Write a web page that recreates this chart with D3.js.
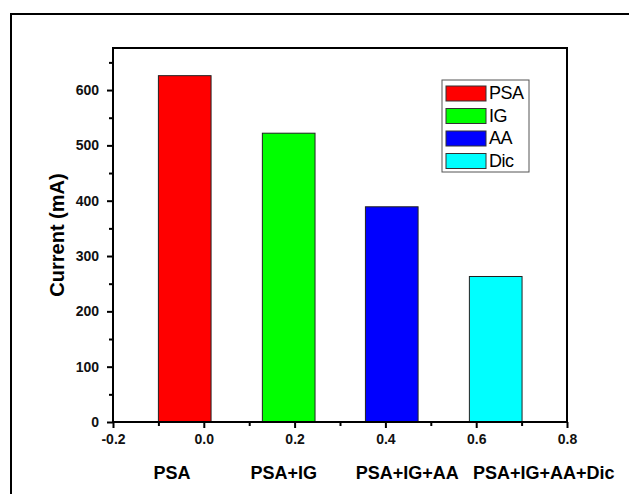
<!DOCTYPE html>
<html>
<head>
<meta charset="utf-8">
<script src="https://cdn.jsdelivr.net/npm/d3@7"></script>
<style>
  body { margin: 0; background: #fff; }
  svg { display: block; }
  text { font-family: "Liberation Sans", Arial, sans-serif; }
</style>
</head>
<body>
<div id="chart"></div>
<script>
// data
const series = ['PSA', 'IG', 'AA', 'Dic'];
const colors = ['#ff0000', '#00ff00', '#0000ff', '#00ffff'];
const barX = [-0.042, 0.187, 0.414, 0.643]; // bar centres on the x axis
const values = [626, 522, 389, 263];
const categories = ['PSA', 'PSA+IG', 'PSA+IG+AA', 'PSA+IG+AA+Dic'];
const categoryX = [-0.07, 0.176, 0.448, 0.749];
const xTicks = [-0.2, 0.0, 0.2, 0.4, 0.6, 0.8];
const yTicks = [0, 100, 200, 300, 400, 500, 600];

const W = 629, H = 494;
const margin = {left: 113, right: 62, top: 48, bottom: 72}; // frame 113..567, 48..422
const barWidth = 0.116;

const svg = d3.select('#chart').append('svg')
    .attr('width', W)
    .attr('height', H);

// outer border (runs off the right/bottom edge like the original)
svg.append('rect')
    .attr('x', 11).attr('y', 14)
    .attr('width', W + 20).attr('height', H + 20)
    .attr('fill', 'none')
    .attr('stroke', '#000')
    .attr('stroke-width', 2);

const x = d3.scaleLinear().domain([-0.2, 0.8]).range([margin.left, W - margin.right]);
const y = d3.scaleLinear().domain([0, 676]).range([H - margin.bottom, margin.top]);

// bars
svg.append('g').selectAll('rect')
    .data(values)
    .enter().append('rect')
    .attr('x', (d, i) => x(barX[i] - barWidth / 2))
    .attr('width', (d, i) => x(barX[i] + barWidth / 2) - x(barX[i] - barWidth / 2))
    .attr('y', d => y(d))
    .attr('height', d => y(0) - y(d))
    .attr('fill', (d, i) => colors[i])
    .attr('stroke', '#222')
    .attr('stroke-width', 1);

// axes: major ticks with labels, minor ticks between
const fmt = d => d.toFixed(1); // plain hyphen minus like the original
svg.append('g')
    .attr('transform', `translate(0,${y(0)})`)
    .call(d3.axisBottom(x).tickValues(xTicks).tickFormat(fmt).tickSize(6).tickPadding(6));
svg.append('g')
    .attr('transform', `translate(0,${y(0)})`)
    .call(d3.axisBottom(x).tickValues(d3.range(-0.1, 0.8, 0.2)).tickFormat('').tickSize(4));

svg.append('g')
    .attr('transform', `translate(${x(-0.2)},0)`)
    .call(d3.axisLeft(y).tickValues(yTicks).tickSize(6).tickPadding(8));
svg.append('g')
    .attr('transform', `translate(${x(-0.2)},0)`)
    .call(d3.axisLeft(y).tickValues(d3.range(50, 676, 100)).tickFormat('').tickSize(4));

svg.selectAll('.domain').remove();
svg.selectAll('.tick line').attr('stroke', '#000').attr('stroke-width', 2);
svg.selectAll('.tick text')
    .attr('fill', '#111')
    .style('font-size', '14px')
    .style('font-weight', 'bold');

// frame
svg.append('rect')
    .attr('x', x(-0.2)).attr('y', y(676))
    .attr('width', x(0.8) - x(-0.2))
    .attr('height', y(0) - y(676))
    .attr('fill', 'none')
    .attr('stroke', '#000')
    .attr('stroke-width', 2);

// y label
svg.append('text')
    .attr('transform', `translate(64,${(y(0) + y(676)) / 2}) rotate(-90)`)
    .attr('text-anchor', 'middle')
    .style('font-size', '20px')
    .style('font-weight', 'bold')
    .text('Current (mA)');

// category labels under the axis
svg.append('g').selectAll('text')
    .data(categories)
    .enter().append('text')
    .attr('x', (d, i) => x(categoryX[i]))
    .attr('y', 479)
    .attr('text-anchor', 'middle')
    .style('font-size', '18px')
    .style('font-weight', 'bold')
    .text(d => d);

// legend
const legend = svg.append('g').attr('transform', 'translate(442,80)');
legend.append('rect')
    .attr('width', 87).attr('height', 92)
    .attr('fill', '#fff')
    .attr('stroke', '#555')
    .attr('stroke-width', 1);
const row = legend.selectAll('g.row')
    .data(series)
    .enter().append('g')
    .attr('class', 'row')
    .attr('transform', (d, i) => `translate(4,${6 + i * 22.5})`);
row.append('rect')
    .attr('width', 40).attr('height', 15)
    .attr('fill', (d, i) => colors[i])
    .attr('stroke', '#333')
    .attr('stroke-width', 1);
row.append('text')
    .attr('x', 43).attr('y', 13)
    .style('font-size', '18px')
    .style('letter-spacing', '-0.5px')
    .text(d => d);
</script>
</body>
</html>
